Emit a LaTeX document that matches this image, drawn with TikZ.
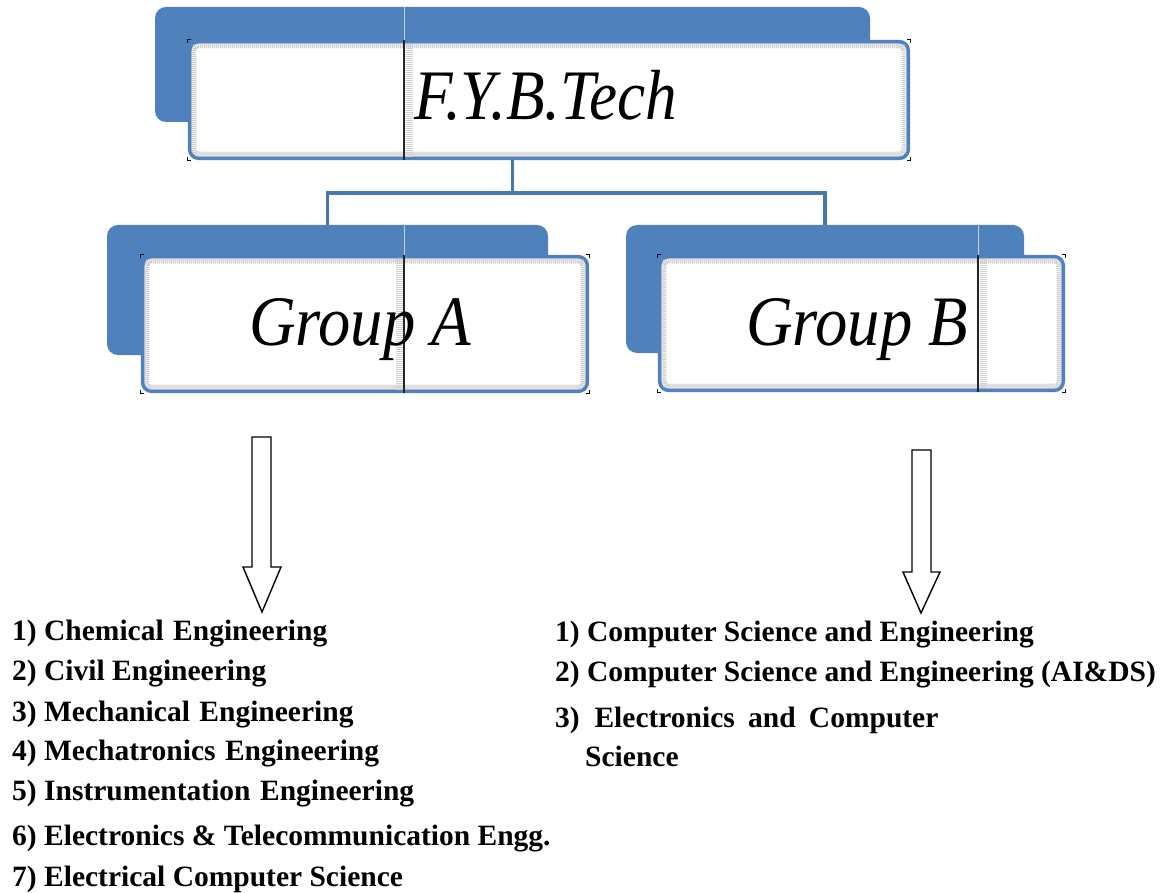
\documentclass[tikz,border=0pt]{standalone}
\usepackage{fontspec}
\setmainfont{Liberation Serif}
\usepackage{graphicx}
\definecolor{accblue}{HTML}{4F81BD}
\definecolor{conblue}{HTML}{4677B2}
\definecolor{texgray}{HTML}{CFCFCF}
\newcommand{\cornermarks}[1]{%
  \draw[handle] ([yshift=-3pt]#1.north west) -- (#1.north west) -- ([xshift=3pt]#1.north west);
  \draw[handle] ([yshift=-3pt]#1.north east) -- (#1.north east) -- ([xshift=-3pt]#1.north east);
  \draw[handle] ([yshift=3pt]#1.south west) -- (#1.south west) -- ([xshift=3pt]#1.south west);
  \draw[handle] ([yshift=3pt]#1.south east) -- (#1.south east) -- ([xshift=-3pt]#1.south east);}
\newcommand{\wsp}{\hspace{0.32em}}
\begin{document}
\begin{tikzpicture}[x=1pt,y=-1pt,
  back/.style={fill=accblue, rounded corners=11pt, inner sep=0pt, outer sep=0pt, draw=none},
  front/.style={fill=white, draw=accblue, line width=3.8pt, rounded corners=9pt, inner sep=0pt},
  conn/.style={draw=conblue, line width=3.8pt, line join=miter},
  texture/.style={draw=texgray, line width=5pt, dash pattern=on 1.2pt off 0.8pt, rounded corners=4pt},
  strip/.style={draw=texgray, line width=7pt, dash pattern=on 1.2pt off 0.8pt},
  divider/.style={draw=black!85, line width=1.1pt},
  faint/.style={draw=white!65!accblue, line width=0.8pt},
  handle/.style={draw=black, line width=0.9pt},
  blockarrow/.style={draw=black, line width=1.4pt, fill=white, line join=miter},
  title/.style={inner sep=0pt, anchor=base, font=\itshape\fontsize{71}{80}\selectfont},
  item/.style={inner sep=0pt, anchor=base west, font=\bfseries\fontsize{29.5}{35}\selectfont}
]
\useasboundingbox (0,0) rectangle (1164,893);

% back shapes
\node[back, minimum width=715pt, minimum height=115pt] (topback) at (512.5,64.5) {};
\node[back, minimum width=441pt, minimum height=130pt] (gaback) at (327.5,290) {};
\node[back, minimum width=398pt, minimum height=128pt] (gbback) at (825,289) {};

% connectors
\coordinate (cj) at ([yshift=-71pt]topback.south);
\draw[conn] (topback.south) -- (cj);
\draw[conn] (gaback.north) |- (cj) -| (gbback.north);

% front boxes
\node[front, minimum width=718.5pt, minimum height=116.5pt] (top) at (549,100) {};
\node[front, minimum width=444.5pt, minimum height=134.5pt] (ga) at (365,324) {};
\node[front, minimum width=403.5pt, minimum height=133.5pt] (gb) at (861.5,323.5) {};

\foreach \n in {top,ga,gb}{
  \draw[texture] ([shift={(6,6)}]\n.north west) rectangle ([shift={(-6,-6)}]\n.south east);
}

% dividers
\coordinate (dx1) at (404,0);
\coordinate (dx2) at (404,0);
\coordinate (dx3) at (978,0);
\coordinate (sx1) at (409,0);
\coordinate (sx2) at (399,0);
\coordinate (sx3) at (983,0);
\draw[strip] ([yshift=-4pt]top.north -| sx1) -- ([yshift=4pt]top.south -| sx1);
\draw[strip] ([yshift=-4pt]ga.north -| sx2) -- ([yshift=4pt]ga.south -| sx2);
\draw[strip] ([yshift=-4pt]gb.north -| sx3) -- ([yshift=4pt]gb.south -| sx3);
\draw[faint] (topback.north -| dx1) -- (top.north -| dx1);
\draw[faint] (gaback.north -| dx2) -- (ga.north -| dx2);
\draw[faint] (gbback.north -| dx3) -- (gb.north -| dx3);
\draw[divider] (top.north -| dx1) -- (top.south -| dx1);
\draw[divider] (ga.north -| dx2) -- (ga.south -| dx2);
\draw[divider] (gb.north -| dx3) -- (gb.south -| dx3);

\cornermarks{top}
\cornermarks{ga}
\cornermarks{gb}

% titles
\node[title] (ttop) at (546,120) {\scalebox{0.89}[1]{F.Y.B.Tech}};
\node[title] (tga) at (360,345) {\scalebox{0.91}[1]{Group A}};
\node[title] (tgb) at (857,345) {\scalebox{0.91}[1]{Group B}};

% block arrows
\draw[blockarrow] (252,437) -- (271,437) -- (271,567) -- (281,567) -- (262,612) -- (243,567) -- (252,567) -- cycle;
\draw[blockarrow] (912,450) -- (931,450) -- (931,572) -- (940,572) -- (921,613) -- (903,572) -- (912,572) -- cycle;

% lists
\node[item] (a1) at (12,640) {1) Chemical\wsp Engineering};
\node[item] (a2) at (12,680) {2) Civil Engineering};
\node[item] (a3) at (12,721) {3) Mechanical\wsp Engineering};
\node[item] (a4) at (12,760) {4) Mechatronics\wsp Engineering};
\node[item] (a5) at (12,800) {5) Instrumentation\wsp Engineering};
\node[item] (a6) at (12,845) {6) Electronics \& Telecommunication Engg.};
\node[item] (a7) at (12,886) {7) Electrical Computer Science};

\node[item] (b1) at (555,641) {1) Computer Science and Engineering};
\node[item] (b2) at (555,681) {2) Computer Science and Engineering (AI\&DS)};
\node[item] (b3) at (555,727) {3)\ \ Electronics\hspace{0.45em}and\hspace{0.45em}Computer};
\node[item] (b4) at (585,766) {Science};
\end{tikzpicture}
\end{document}
